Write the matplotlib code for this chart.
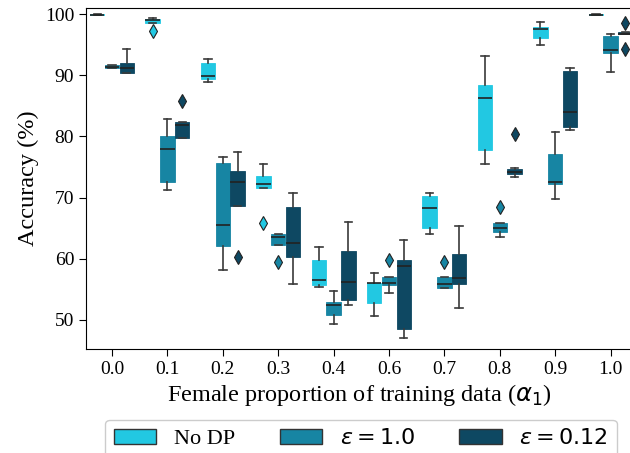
import matplotlib
matplotlib.use('Agg')
import matplotlib.pyplot as plt
from matplotlib.patches import Patch

# x categories (note: 0.5 is not in the run)
alphas = ['0.0', '0.1', '0.2', '0.3', '0.4', '0.6', '0.7', '0.8', '0.9', '1.0']
series = ['No DP', r'$\varepsilon = 1.0$', r'$\varepsilon = 0.12$']
colors = ['#22c8e2', '#1785a3', '#0e4862']

# box stats, one list per statistic per series
nodp_lo = [99.9, 98.5, 88.9, 71.6, 55.4, 50.6, 64.0, 75.5, 94.9, 99.9]
nodp_q1 = [99.9, 98.5, 89.3, 71.6, 55.7, 52.7, 65.1, 77.8, 96.0, 99.9]
nodp_med = [99.9, 99.0, 89.8, 72.3, 56.6, 56.0, 68.3, 86.2, 97.5, 99.9]
nodp_q3 = [100.0, 99.2, 92.0, 73.5, 59.8, 56.1, 70.3, 88.4, 97.8, 100.0]
nodp_hi = [100.0, 99.4, 92.7, 75.5, 62.0, 57.7, 70.7, 93.1, 98.7, 100.0]
nodp_out = [[], [97.3], [], [65.8], [], [], [], [], [], []]

eps1_lo = [91.1, 71.2, 58.2, 62.3, 49.4, 54.4, 55.2, 63.5, 69.7, 90.6]
eps1_q1 = [91.1, 72.6, 62.1, 62.3, 50.8, 55.7, 55.3, 64.3, 72.2, 93.7]
eps1_med = [91.4, 78.0, 65.5, 63.5, 52.4, 56.0, 55.9, 65.0, 72.6, 94.1]
eps1_q3 = [91.6, 80.0, 75.7, 64.1, 53.0, 57.0, 57.0, 65.8, 77.1, 96.4]
eps1_hi = [91.6, 82.9, 76.7, 64.1, 54.8, 57.0, 57.0, 65.8, 80.7, 96.8]
eps1_out = [[], [], [], [59.4], [], [59.75], [59.4], [68.5], [], []]

eps012_lo = [90.3, 79.8, 68.6, 55.8, 52.4, 47.0, 52.0, 73.4, 81.0, 96.7]
eps012_q1 = [90.3, 79.8, 68.6, 60.3, 53.2, 48.6, 55.9, 73.8, 81.6, 96.7]
eps012_med = [91.1, 81.9, 72.5, 62.5, 56.2, 58.8, 56.8, 74.2, 84.0, 96.8]
eps012_q3 = [92.0, 82.3, 74.3, 68.4, 61.2, 59.8, 60.8, 74.7, 90.7, 97.0]
eps012_hi = [94.3, 82.3, 77.5, 70.7, 66.0, 63.0, 65.4, 74.8, 91.2, 97.0]
eps012_out = [[], [85.8], [60.3], [], [], [], [], [80.4], [], [98.5, 94.3]]

all_stats = [
    (nodp_lo, nodp_q1, nodp_med, nodp_q3, nodp_hi, nodp_out),
    (eps1_lo, eps1_q1, eps1_med, eps1_q3, eps1_hi, eps1_out),
    (eps012_lo, eps012_q1, eps012_med, eps012_q3, eps012_hi, eps012_out),
]

plt.rcParams['font.family'] = ['Liberation Serif', 'DejaVu Serif']
plt.rcParams['mathtext.fontset'] = 'dejavusans'

fig = plt.figure(figsize=(6.3, 4.53), dpi=100)
ax = fig.add_axes([0.1365, 0.2296, 1.0044 - 0.1365, 0.9823 - 0.2296])

group_w = 0.8
box_w = group_w / 3
for k, (lo, q1, med, q3, hi, out) in enumerate(all_stats):
    stats = []
    for i in range(len(alphas)):
        stats.append({'whislo': lo[i], 'q1': q1[i], 'med': med[i],
                      'q3': q3[i], 'whishi': hi[i], 'fliers': out[i]})
    pos = [i - group_w / 2 + box_w * (k + 0.5) for i in range(len(alphas))]
    ax.bxp(stats, positions=pos, widths=box_w * 0.98, patch_artist=True,
           manage_ticks=False,
           boxprops=dict(facecolor=colors[k], edgecolor=colors[k], linewidth=0.6),
           medianprops=dict(color='#222222', linewidth=1.2),
           whiskerprops=dict(color='#3a3a3a', linewidth=1.2),
           capprops=dict(color='#3a3a3a', linewidth=1.2),
           capwidths=box_w * 0.5,
           flierprops=dict(marker='d', markersize=7, markerfacecolor=colors[k],
                           markeredgecolor='#222222', markeredgewidth=0.8))

ax.set_xticks(range(len(alphas)))
ax.set_xticklabels(alphas)
ax.set_xlim(-0.47, 9.4)
ax.set_ylim(45.26, 100.98)
ax.set_yticks([50, 60, 70, 80, 90, 100])
ax.tick_params(labelsize=14, length=5)
ax.set_xlabel(r'Female proportion of training data ($\alpha_1$)', fontsize=17.5,
              labelpad=3)
ax.set_ylabel('Accuracy (%)', fontsize=17.5)
ax.spines['right'].set_visible(False)

handles = [Patch(facecolor=c, edgecolor='#333333', linewidth=1) for c in colors]
fig.legend(handles, series, loc='upper center', bbox_to_anchor=(0.573, 0.073),
           borderaxespad=0, ncol=3, fontsize=16, handlelength=1.9,
           columnspacing=2.0, fancybox=True, framealpha=1, edgecolor='#cccccc')

fig.savefig('out.png', dpi=100)
plt.close(fig)
